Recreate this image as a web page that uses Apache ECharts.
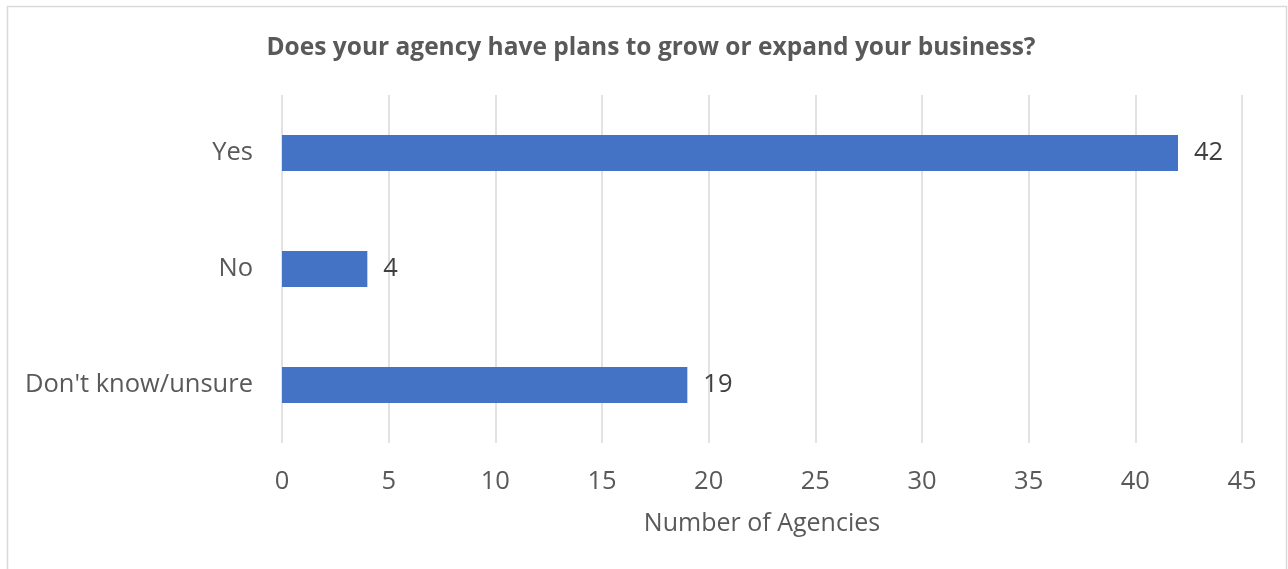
<!DOCTYPE html>
<html>
<head>
<meta charset="utf-8">
<script src="https://cdn.jsdelivr.net/npm/echarts@6/dist/echarts.min.js"></script>
<style>
  html, body { margin: 0; padding: 0; background: #fff; }
  #chart { width: 1288px; height: 569px; }
</style>
</head>
<body>
<div id="chart"></div>
<script>
// Survey responses: plans to grow or expand the business
const categories = ["Don't know/unsure", "No", "Yes"];
const agencyCounts = [19, 4, 42];
const xTicks = { min: 0, max: 45, interval: 5 };

const FONT = '"Open Sans", "Noto Sans", sans-serif';
const chart = echarts.init(document.getElementById('chart'), null, { renderer: 'canvas' });

chart.setOption({
  backgroundColor: '#ffffff',
  animation: false,
  title: {
    text: 'Does your agency have plans to grow or expand your business?',
    left: 646,
    top: 31,
    textAlign: 'center',
    textStyle: { fontFamily: FONT, fontSize: 24.5, fontWeight: 'bold', color: '#595959' }
  },
  graphic: [{
    type: 'rect',
    shape: { x: 7.5, y: 6.5, width: 1279, height: 600 },
    style: { fill: 'none', stroke: '#d9d9d9', lineWidth: 1.5 },
    silent: true
  }],
  grid: { left: 282, right: 46, top: 95, bottom: 126, containLabel: false },
  xAxis: {
    type: 'value',
    min: xTicks.min,
    max: xTicks.max,
    interval: xTicks.interval,
    name: 'Number of Agencies',
    nameLocation: 'middle',
    nameGap: 68,
    nameTextStyle: { fontFamily: FONT, fontSize: 25, color: '#595959' },
    axisLine: { show: false },
    axisTick: { show: false },
    axisLabel: { fontFamily: FONT, fontSize: 25.5, color: '#595959', margin: 26 },
    splitLine: { show: true, lineStyle: { color: '#d9d9d9', width: 1.5 } }
  },
  yAxis: {
    type: 'category',
    data: categories,
    axisLine: { show: false },
    axisTick: { show: false },
    axisLabel: { fontFamily: FONT, fontSize: 25.5, color: '#595959', margin: 29 }
  },
  series: [{
    type: 'bar',
    data: agencyCounts,
    barWidth: 36,
    itemStyle: { color: '#4472c4' },
    label: {
      show: true,
      position: 'right',
      distance: 16,
      fontFamily: FONT,
      fontSize: 25.5,
      color: '#404040'
    }
  }]
});
</script>
</body>
</html>
